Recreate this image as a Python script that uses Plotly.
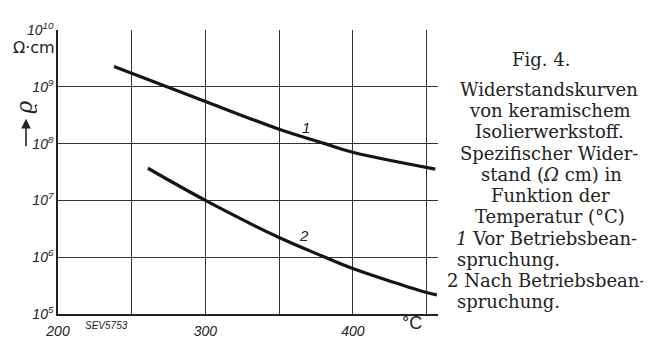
import plotly.graph_objects as go

# Data
temp_1 = [238, 300, 350, 381, 400, 456]
rho_1 = [2.27e9, 5.52e8, 1.79e8, 1.0e8, 7.03e7, 3.55e7]
temp_2 = [261, 300, 350, 380, 400, 450, 457]
rho_2 = [3.68e7, 1.0e7, 2.22e6, 1.03e6, 6.3e5, 2.39e5, 2.17e5]

x_grid = [200, 250, 300, 350, 400, 450]
x_labels = ["200", "", "300", "", "400", ""]
y_grid = [1e5, 1e6, 1e7, 1e8, 1e9, 1e10]
y_labels = ["10<sup>5</sup>", "10<sup>6</sup>", "10<sup>7</sup>", "10<sup>8</sup>",
            "10<sup>9</sup>", "10<sup>10</sup>"]

caption = [
    ("Fig. 4.", 533, 50, "center"),
    ("Widerstandskurven", 541, 82, "center"),
    ("von keramischem", 542, 105, "center"),
    ("Isolierwerkstoff.", 541, 128, "center"),
    ("Spezifischer Wider-", 541, 151, "center"),
    ("stand (<i>Ω</i> cm) in", 543, 174, "center"),
    ("Funktion der", 542, 197, "center"),
    ("Temperatur (°C)", 542, 220, "center"),
    ("<i>1</i> Vor Betriebsbean-", 538, 243, "center"),
    ("spruchung.", 447, 266, "left"),
    ("2 Nach Betriebsbean-", 538, 289, "center"),
    ("spruchung.", 447, 312, "left"),
]

W, H = 651, 343
L, R, T, B = 50, 221, 18, 18
PW, PH = W - L - R, H - T - B


def px(x):
    return (x - L) / PW


def py(y):
    return (H - B - y) / PH


fig = go.Figure()
fig.add_trace(go.Scatter(x=temp_1, y=rho_1, mode="lines",
                         line=dict(color="#151515", width=3.2, shape="spline", smoothing=1.0),
                         showlegend=False, hoverinfo="skip"))
fig.add_trace(go.Scatter(x=temp_2, y=rho_2, mode="lines",
                         line=dict(color="#151515", width=3.2, shape="spline", smoothing=1.0),
                         showlegend=False, hoverinfo="skip"))

tick_font = dict(family="Liberation Sans", size=14, color="#222", style="italic")

fig.update_xaxes(range=[200, 457.8], tickvals=x_grid, ticktext=x_labels,
                 showgrid=True, gridcolor="#333", gridwidth=1,
                 showline=True, linecolor="#222", linewidth=1.6,
                 ticks="", tickfont=tick_font, ticklabelstandoff=3,
                 zeroline=False, fixedrange=True)
fig.update_yaxes(type="log", range=[5, 10], tickvals=y_grid, ticktext=y_labels,
                 showgrid=True, gridcolor="#333", gridwidth=1,
                 showline=True, linecolor="#222", linewidth=1.6,
                 ticks="", tickfont=tick_font, zeroline=False, fixedrange=True)

ann = []
for text, x, y, anchor in caption:
    ann.append(dict(text=text, xref="paper", yref="paper", x=px(x), y=py(y),
                    xanchor=anchor, yanchor="middle", showarrow=False,
                    font=dict(family="DejaVu Serif", size=18, color="#222")))

# curve labels
ann.append(dict(text="1", x=368, y=8.29, xref="x", yref="y", showarrow=False,
                font=dict(family="Liberation Sans", size=15, color="#222", style="italic")))
ann.append(dict(text="2", x=366.7, y=6.385, xref="x", yref="y", showarrow=False,
                font=dict(family="Liberation Sans", size=15, color="#222", style="italic")))
# unit & symbol
ann.append(dict(text="Ω·cm", xref="paper", yref="paper", x=px(49), y=py(37),
                xanchor="right", yanchor="middle", showarrow=False,
                font=dict(family="DejaVu Sans", size=16, color="#222")))
ann.append(dict(text="ϱ", xref="paper", yref="paper", x=px(17), y=py(102),
                xanchor="center", yanchor="middle", showarrow=False, textangle=-90,
                font=dict(family="DejaVu Serif", size=22, color="#222", style="italic")))
ann.append(dict(text="", xref="paper", yref="paper", x=px(18), y=py(114),
                ax=0, ay=29, axref="pixel", ayref="pixel",
                showarrow=True, arrowhead=2, arrowsize=1.2, arrowwidth=1.6, arrowcolor="#222"))
ann.append(dict(text="°C", xref="paper", yref="paper", x=px(404), y=py(335),
                xanchor="center", yanchor="middle", showarrow=False,
                font=dict(family="Liberation Sans", size=18, color="#222")))
ann.append(dict(text="SEV5753", xref="paper", yref="paper", x=px(98), y=py(337),
                xanchor="center", yanchor="middle", showarrow=False,
                font=dict(family="Liberation Sans", size=10, color="#222", style="italic")))

fig.update_layout(width=W, height=H, margin=dict(l=L, r=R, t=T, b=B),
                  paper_bgcolor="white", plot_bgcolor="white",
                  annotations=ann, showlegend=False)

fig.write_html("out.html", config={"displayModeBar": False})
